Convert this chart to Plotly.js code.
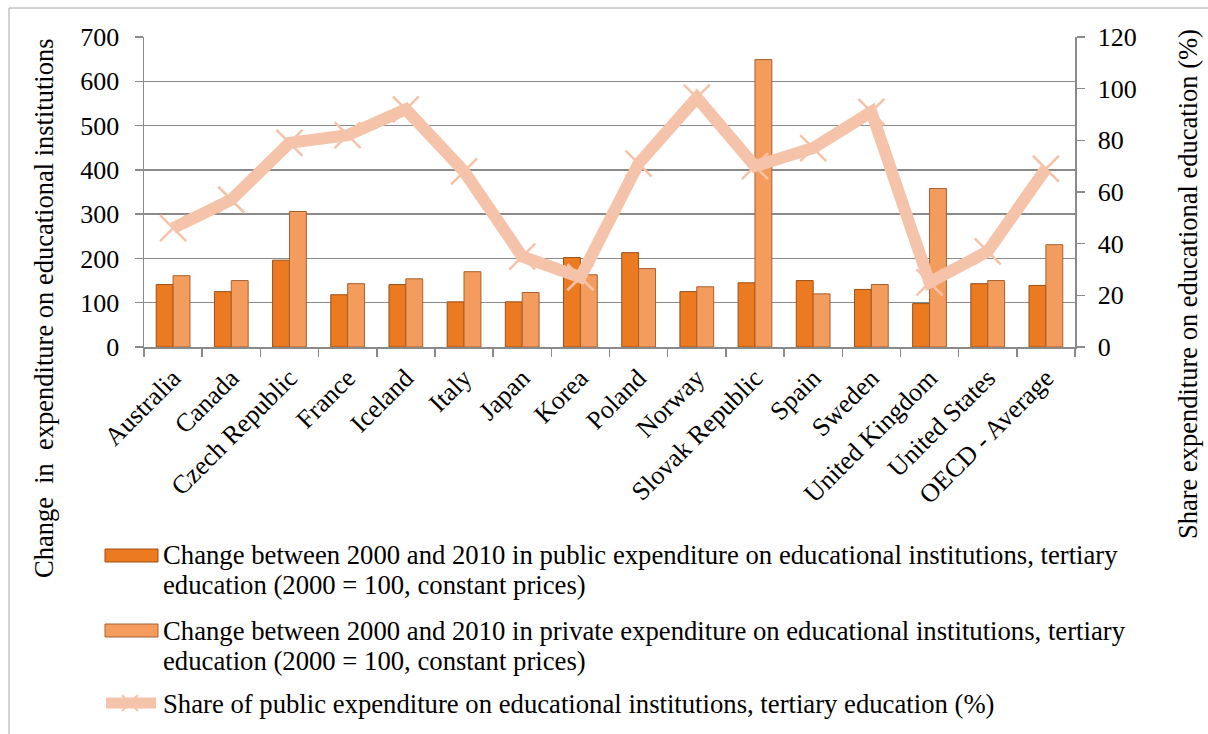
<!DOCTYPE html>
<html>
<head>
<meta charset="utf-8">
<script src="https://cdn.plot.ly/plotly-3.0.1.min.js"></script>
<style>
  html, body { margin: 0; padding: 0; background: #fff; }
  #chart { width: 1208px; height: 734px; }
</style>
</head>
<body>
<div id="chart"></div>
<script>
// Countries (and the OECD average) shown along the horizontal axis
const countries = [
  "Australia", "Canada", "Czech Republic", "France", "Iceland", "Italy",
  "Japan", "Korea", "Poland", "Norway", "Slovak Republic", "Spain",
  "Sweden", "United Kingdom", "United States", "OECD - Average"
];

// Index of expenditure in 2010 (2000 = 100, constant prices)
const publicChange  = [141, 125, 196, 118, 141, 102, 102, 202, 213, 125, 145, 150, 130, 98, 143, 139];
const privateChange = [161, 150, 306, 143, 154, 170, 123, 163, 177, 136, 649, 120, 141, 358, 150, 231];

// Share of public expenditure on tertiary institutions (%)
const publicShare = [46, 57, 79, 82, 92, 68, 35, 27, 71, 96.5, 70, 77, 91, 25, 37, 69];

const leftTicks  = [0, 100, 200, 300, 400, 500, 600, 700];
const rightTicks = [0, 20, 40, 60, 80, 100, 120];

// Legend entries, each split over the lines it is printed on
const legendLines = [
  ["Change between 2000 and 2010 in public expenditure on educational institutions, tertiary",
   "education (2000 = 100, constant prices)"],
  ["Change between 2000 and 2010 in private expenditure on educational institutions, tertiary",
   "education (2000 = 100, constant prices)"],
  ["Share of public expenditure on educational institutions, tertiary education (%)"]
];

// double spaces kept as no-break spaces so SVG does not collapse them
const leftTitle  = "Change\u00A0 in\u00A0 expenditure on educational institutions";
const rightTitle = "Share expenditure on educational education (%)";

// ---- layout geometry (pixels) ----
const W = 1208, H = 734;
const M = { l: 144, r: 133, t: 37, b: 387 };
const PW = W - M.l - M.r, PH = H - M.t - M.b;
const px = x => (x - M.l) / PW;           // pixel -> paper x
const py = y => (H - M.b - y) / PH;       // pixel -> paper y

const FONT = 'Liberation Serif, Times New Roman, serif';
const FS = 26;
const GRID = '#8a8a8a';
const PUBLIC_FILL = '#ec7a20', PUBLIC_EDGE = '#9c4e16';
const PRIVATE_FILL = '#f39c5e', PRIVATE_EDGE = '#a8602e';
const LINE_COLOR = '#f5c3a9';

const traces = [
  {
    type: 'bar', x: countries, y: publicChange, name: legendLines[0].join(' '),
    marker: { color: PUBLIC_FILL, line: { color: PUBLIC_EDGE, width: 1 } },
    hoverinfo: 'x+y'
  },
  {
    type: 'bar', x: countries, y: privateChange, name: legendLines[1].join(' '),
    marker: { color: PRIVATE_FILL, line: { color: PRIVATE_EDGE, width: 1 } },
    hoverinfo: 'x+y'
  },
  {
    type: 'scatter', mode: 'lines+markers', x: countries, y: publicShare,
    yaxis: 'y2', name: legendLines[2][0],
    line: { color: LINE_COLOR, width: 12 },
    marker: { symbol: 'x-thin-open', size: 26, color: LINE_COLOR,
              line: { color: LINE_COLOR, width: 2.5 } },
    hoverinfo: 'x+y'
  }
];

// Legend drawn by hand: wide bar swatches and the thick line with its cross
const shapes = [
  // outer frame of the chart
  { type: 'rect', xref: 'paper', yref: 'paper',
    x0: px(9), x1: px(1230), y0: py(8), y1: py(760),
    line: { color: '#a6a6a6', width: 1 }, fillcolor: 'rgba(0,0,0,0)', layer: 'below' },
  { type: 'rect', xref: 'paper', yref: 'paper',
    x0: px(105), x1: px(158), y0: py(549), y1: py(562),
    fillcolor: PUBLIC_FILL, line: { color: PUBLIC_EDGE, width: 1 } },
  { type: 'rect', xref: 'paper', yref: 'paper',
    x0: px(105), x1: px(158), y0: py(624), y1: py(637),
    fillcolor: PRIVATE_FILL, line: { color: PRIVATE_EDGE, width: 1 } },
  { type: 'line', xref: 'paper', yref: 'paper',
    x0: px(106), x1: px(156), y0: py(703), y1: py(703),
    line: { color: LINE_COLOR, width: 11 } },
  { type: 'line', xref: 'paper', yref: 'paper',
    x0: px(122), x1: px(138), y0: py(695), y1: py(711),
    line: { color: LINE_COLOR, width: 2 } },
  { type: 'line', xref: 'paper', yref: 'paper',
    x0: px(122), x1: px(138), y0: py(711), y1: py(695),
    line: { color: LINE_COLOR, width: 2 } }
];

const textFont = { family: FONT, size: FS, color: '#000' };
const legendFont = { family: FONT, size: 26.7, color: '#000' };
const titleFont = { family: FONT, size: 26.5, color: '#000' };

// centre line (pixel y) of each printed legend line
const legendRows = [[555, 585], [631, 661], [704]];

const annotations = [];
legendLines.forEach((lines, i) => {
  lines.forEach((txt, j) => {
    annotations.push({
      xref: 'paper', yref: 'paper', x: px(161), y: py(legendRows[i][j]),
      xanchor: 'left', yanchor: 'middle', align: 'left', showarrow: false,
      text: txt, font: legendFont
    });
  });
});
annotations.push(
  { xref: 'paper', yref: 'paper', x: px(44), y: py(309), xanchor: 'center', yanchor: 'middle',
    textangle: -90, showarrow: false, text: leftTitle, font: titleFont },
  { xref: 'paper', yref: 'paper', x: px(1188), y: py(284), xanchor: 'center', yanchor: 'middle',
    textangle: -90, showarrow: false, text: rightTitle, font: titleFont }
);

const layout = {
  width: W, height: H,
  margin: M,
  paper_bgcolor: '#fff', plot_bgcolor: '#fff',
  showlegend: false,
  barmode: 'group', bargap: 0.42, bargroupgap: 0,
  font: textFont,
  xaxis: {
    type: 'category', range: [-0.5, countries.length - 0.5],
    tickangle: -45, tickson: 'boundaries',
    ticks: 'outside', ticklen: 8, tickcolor: GRID, tickwidth: 1.5,
    ticklabelstandoff: 4,
    showline: true, linecolor: GRID, linewidth: 1.5,
    showgrid: false, zeroline: false,
    tickfont: textFont
  },
  yaxis: {
    range: [0, 700], tickvals: leftTicks, ticktext: leftTicks.map(String),
    ticks: 'outside', ticklen: 8, tickcolor: GRID, tickwidth: 1.5,
    ticklabelstandoff: 10,
    showline: true, linecolor: GRID, linewidth: 1.5,
    showgrid: true, gridcolor: GRID, gridwidth: 1.5, zeroline: false,
    tickfont: textFont
  },
  yaxis2: {
    overlaying: 'y', side: 'right', range: [0, 120],
    tickvals: rightTicks, ticktext: rightTicks.map(String),
    ticks: 'outside', ticklen: 8, tickcolor: GRID, tickwidth: 1.5,
    ticklabelstandoff: 8,
    showline: true, linecolor: GRID, linewidth: 1.5,
    showgrid: false, zeroline: false,
    tickfont: textFont
  },
  shapes: shapes,
  annotations: annotations
};

Plotly.newPlot('chart', traces, layout, { displayModeBar: false, staticPlot: true });
</script>
</body>
</html>
